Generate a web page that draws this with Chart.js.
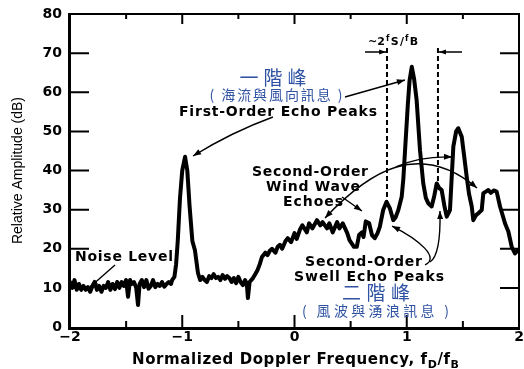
<!DOCTYPE html>
<html>
<head>
<meta charset="utf-8">
<script src="https://cdn.jsdelivr.net/npm/chart.js@4.4.1/dist/chart.umd.min.js"></script>
<style>
  html, body { margin: 0; padding: 0; background: #fff; overflow: hidden; }
  canvas { display: block; }
</style>
</head>
<body>
<canvas id="spectrum" width="524" height="369"></canvas>
<script>
// Doppler spectrum of HF radar sea echo
const freqs = [
  -2.00, -1.98, -1.96, -1.94, -1.92, -1.90, -1.88, -1.86, -1.84, -1.82,
  -1.80, -1.78, -1.76, -1.74, -1.72, -1.70, -1.68, -1.66, -1.64, -1.62,
  -1.60, -1.58, -1.56, -1.54, -1.52, -1.50, -1.483, -1.465, -1.45, -1.43,
  -1.41, -1.394, -1.38, -1.36, -1.34, -1.32, -1.30, -1.28, -1.26, -1.24,
  -1.22, -1.20, -1.18, -1.16, -1.14, -1.12, -1.10, -1.09, -1.07, -1.055,
  -1.04, -1.02, -1.00, -0.975, -0.955, -0.935, -0.91, -0.887, -0.86, -0.84,
  -0.82, -0.80, -0.78, -0.76, -0.74, -0.72, -0.70, -0.68, -0.66, -0.64,
  -0.62, -0.60, -0.58, -0.56, -0.54, -0.52, -0.50, -0.48, -0.46, -0.44,
  -0.425, -0.415, -0.40, -0.37, -0.35, -0.33, -0.31, -0.29, -0.26, -0.24,
  -0.22, -0.20, -0.17, -0.15, -0.13, -0.11, -0.08, -0.06, -0.03, 0.00,
  0.02, 0.05, 0.07, 0.11, 0.13, 0.16, 0.20, 0.23, 0.25, 0.29,
  0.31, 0.34, 0.38, 0.40, 0.43, 0.47, 0.49, 0.53, 0.555, 0.575,
  0.60, 0.615, 0.635, 0.665, 0.69, 0.715, 0.74, 0.76, 0.79, 0.82,
  0.85, 0.88, 0.90, 0.925, 0.955, 0.97, 0.985, 1.01, 1.025, 1.045,
  1.065, 1.088, 1.118, 1.147, 1.17, 1.192, 1.222, 1.245, 1.267, 1.29,
  1.311, 1.335, 1.356, 1.385, 1.40, 1.415, 1.44, 1.459, 1.49, 1.51,
  1.534, 1.555, 1.579, 1.593, 1.615, 1.638, 1.668, 1.682, 1.705, 1.727,
  1.75, 1.775, 1.801, 1.831, 1.855, 1.875, 1.905, 1.935, 1.964, 1.994
];
const amps = [
  11.5, 10, 12, 9.5, 11, 9.5, 10.5, 9.5, 10.2, 9,
  10.5, 11.5, 9.5, 10.5, 9, 10.5, 10, 11.5, 9.5, 11,
  9.7, 11.5, 10, 11.5, 10.5, 12, 7.7, 12, 11, 11.5,
  10, 5.6, 11, 12, 10.2, 12, 9.8, 10.5, 12, 10.2,
  11, 10.5, 11.5, 10.3, 11, 11.5, 11, 12, 12.8, 16,
  22, 33, 40, 43.5, 40, 31, 22, 19.6, 13.8, 12,
  12.8, 12, 11.5, 13, 12.5, 13.5, 12.5, 12.8, 12, 13.3,
  12.3, 13, 12.5, 11.5, 12.5, 11.2, 12.8, 11.5, 10.7, 12,
  11, 7.4, 11.5, 12.5, 13.5, 14.5, 16, 17.9, 19, 18.4,
  19.5, 20, 19, 20.5, 21, 20, 22, 22.7, 21.7, 24,
  22.5, 25, 26, 24.2, 26.5, 25.2, 27.3, 26, 26.8, 25.2,
  26.5, 24.2, 26.8, 25.2, 26.5, 24, 22.2, 20.5, 20.5, 23.5,
  24.2, 23, 27, 26.5, 23.5, 22.7, 24, 25.6, 29.9, 32,
  30.3, 27.3, 28, 29.9, 33.3, 38, 45.2, 57, 63, 66.5,
  63.5, 58, 45.2, 36.7, 33, 31.6, 30.8, 33.5, 36.7, 35.5,
  35, 31, 28.2, 29.9, 38, 46.1, 50, 50.8, 48.6, 44,
  38.4, 34, 30.8, 27.3, 28.5, 29.1, 29.9, 34.2, 34.6, 35.0,
  34.3, 34.9, 34.6, 30.8, 28.5, 26.5, 24.4, 20.5, 18.8, 19.7
];
const xTickValues = [-2, -1, 0, 1, 2];
const yTickValues = [0, 10, 20, 30, 40, 50, 60, 70, 80];
// ±fS/fB band edges about the positive first-order line
const bandEdges = [0.824, 1.278];

const BOLD = "bold 14px 'DejaVu Sans', sans-serif";
const CJK_BIG = "19px 'Noto Sans CJK TC', sans-serif";
const CJK_SMALL = "14px 'Noto Sans CJK TC', sans-serif";
const BLUE = '#2f52a3';

// text stretched to a given width through letter spacing
function fitText(ctx, text, cx, cy, width, font, color) {
  ctx.save();
  ctx.font = font;
  ctx.fillStyle = color;
  ctx.textBaseline = 'middle';
  const hasSpacing = 'letterSpacing' in ctx;
  if (hasSpacing) ctx.letterSpacing = '0px';
  const w0 = ctx.measureText(text).width;
  const n = [...text].length;
  if (hasSpacing && w0 < width && n > 1) {
    const sp = (width - w0) / (n - 1);
    ctx.letterSpacing = sp.toFixed(2) + 'px';
    ctx.textAlign = 'left';
    ctx.fillText(text, cx - width / 2, cy);
  } else {
    ctx.textAlign = 'center';
    ctx.fillText(text, cx, cy);
  }
  ctx.restore();
}

function arrowHead(ctx, tx, ty, fx, fy, len = 8, half = 3) {
  const a = Math.atan2(ty - fy, tx - fx);
  ctx.beginPath();
  ctx.moveTo(tx, ty);
  ctx.lineTo(tx - len * Math.cos(a) + half * Math.sin(a), ty - len * Math.sin(a) - half * Math.cos(a));
  ctx.lineTo(tx - len * Math.cos(a) - half * Math.sin(a), ty - len * Math.sin(a) + half * Math.cos(a));
  ctx.closePath();
  ctx.fill();
}

const frameAndNotes = {
  id: 'frameAndNotes',
  afterDatasetsDraw(chart) {
    const { ctx, chartArea: a, scales: { x, y } } = chart;
    const P = (fx, fy) => [x.getPixelForValue(fx), y.getPixelForValue(fy)];
    ctx.save();
    ctx.strokeStyle = '#000';
    ctx.fillStyle = '#000';

    // frame
    ctx.lineWidth = 3;
    ctx.beginPath();
    ctx.moveTo(a.left - 0.5, a.top - 1);
    ctx.lineTo(a.left - 0.5, a.bottom + 1.5);
    ctx.lineTo(a.right + 1, a.bottom + 1.5);
    ctx.stroke();
    ctx.lineWidth = 2;
    ctx.beginPath();
    ctx.moveTo(a.left - 2, a.top);
    ctx.lineTo(a.right, a.top);
    ctx.lineTo(a.right, a.bottom + 1.5);
    ctx.stroke();

    // inward ticks
    ctx.lineWidth = 2;
    yTickValues.slice(1, -1).forEach(v => {
      const py = y.getPixelForValue(v);
      ctx.beginPath();
      ctx.moveTo(a.left, py); ctx.lineTo(a.left + 19, py);
      ctx.moveTo(a.right - 19, py); ctx.lineTo(a.right, py);
      ctx.stroke();
    });
    const xMarks = [];
    for (let i = 0; i < xTickValues.length - 1; i++) {
      if (i > 0) xMarks.push([xTickValues[i], true]);
      xMarks.push([(xTickValues[i] + xTickValues[i + 1]) / 2, false]);
    }
    xMarks.forEach(([v, major]) => {
      const px = x.getPixelForValue(v);
      ctx.beginPath();
      ctx.moveTo(px, a.bottom); ctx.lineTo(px, a.bottom - (major ? 12 : 6));
      ctx.moveTo(px, a.top); ctx.lineTo(px, a.top + (major ? 10 : 5));
      ctx.stroke();
    });

    // band edge markers
    ctx.lineWidth = 2;
    ctx.setLineDash([5, 3]);
    [[bandEdges[0], 30.4], [bandEdges[1], 36.8]].forEach(([f, lo]) => {
      const [px, p1] = P(f, 71.3);
      const [, p2] = P(f, lo);
      ctx.beginPath(); ctx.moveTo(px, p1); ctx.lineTo(px, p2); ctx.stroke();
    });
    ctx.setLineDash([]);
    const [l0x, ay] = P(0.628, 70.3), [l1x] = P(bandEdges[0] - 0.008, 70.3);
    const [r0x] = P(1.492, 70.3), [r1x] = P(bandEdges[1] + 0.009, 70.3);
    ctx.lineWidth = 1.6;
    ctx.beginPath(); ctx.moveTo(l0x, ay); ctx.lineTo(l1x, ay);
    ctx.moveTo(r0x, ay); ctx.lineTo(r1x, ay); ctx.stroke();
    arrowHead(ctx, l1x, ay, l0x, ay, 7, 2.5);
    arrowHead(ctx, r1x, ay, r0x, ay, 7, 2.5);

    // ~2fS/fB
    {
      let [px, py] = P(0.655, 72.1);
      const parts = [['~2', 11, 0], ['f', 8, -4], ['S', 11, 0], ['/', 11, 0], ['f', 8, -4], ['B', 11, 0]];
      ctx.textBaseline = 'alphabetic';
      ctx.textAlign = 'left';
      parts.forEach(([t, s, dy]) => {
        ctx.font = `bold ${s}px 'DejaVu Sans', sans-serif`;
        ctx.fillText(t, px, py + dy);
        px += ctx.measureText(t).width + 1.2;
      });
    }

    // pointers
    ctx.lineWidth = 1.4;
    const seg = (p0, p1) => {
      ctx.beginPath(); ctx.moveTo(...p0); ctx.lineTo(...p1); ctx.stroke();
      arrowHead(ctx, p1[0], p1[1], p0[0], p0[1]);
    };
    const quad = (p0, c, p1) => {
      ctx.beginPath(); ctx.moveTo(...p0); ctx.quadraticCurveTo(...c, ...p1); ctx.stroke();
      arrowHead(ctx, p1[0], p1[1], c[0], c[1]);
    };
    const cubic = (p0, c1, c2, p1, both) => {
      ctx.beginPath(); ctx.moveTo(...p0); ctx.bezierCurveTo(...c1, ...c2, ...p1); ctx.stroke();
      arrowHead(ctx, p1[0], p1[1], c2[0], c2[1]);
      if (both) arrowHead(ctx, p0[0], p0[1], c1[0], c1[1]);
    };
    // noise level
    seg(P(-1.599, 15.85), P(-1.822, 10.22));
    // first-order peaks
    quad(P(-0.192, 53.67), P(-0.557, 49.84), P(-0.904, 43.71));
    seg(P(0.450, 58.79), P(0.984, 63.13));
    // wind wave echoes
    cubic(P(0.272, 27.86), P(0.673, 40.13), P(1.118, 47.80), P(1.626, 35.53), true);
    quad(P(0.904, 40.9), P(1.118, 43.71), P(1.403, 43.45));
    seg(P(0.423, 33.23), P(0.601, 29.65));
    // swell echo peaks
    cubic(P(1.163, 15.85), P(1.296, 17.64), P(1.118, 22.24), P(0.869, 25.81), false);
    quad(P(1.207, 16.61), P(1.305, 18.40), P(1.296, 29.65));

    // labels
    const L = (t, fx, fy, w, font, color) => { const [cx, cy] = P(fx, fy); fitText(ctx, t, cx, cy, w, font, color); };
    L('一階峰', -0.192, 63.64, 67, CJK_BIG, BLUE);
    L('( 海流與風向訊息 )', -0.165, 59.30, 133, CJK_SMALL, BLUE);
    L('First-Order Echo Peaks', -0.147, 54.95, 198, BOLD, '#000');
    L('Second-Order', 0.138, 39.62, 116, BOLD, '#000');
    L('Wind Wave', 0.165, 35.78, 94, BOLD, '#000');
    L('Echoes', 0.165, 31.95, 60, BOLD, '#000');
    L('Second-Order', 0.615, 16.61, 117, BOLD, '#000');
    L('Swell Echo Peaks', 0.664, 12.78, 150, BOLD, '#000');
    L('二階峰', 0.726, 8.69, 68, CJK_BIG, BLUE);
    L('( 風波與湧浪訊息 )', 0.722, 4.09, 147, CJK_SMALL, BLUE);
    L('Noise Level', -1.519, 17.89, 98, BOLD, '#000');

    // x axis title with subscripts
    {
      const parts = [['Normalized Doppler Frequency, f', 15, 0], ['D', 11, 4], ['/f', 15, 0], ['B', 11, 4]];
      const left = a.left + 62, width = 327, base = a.bottom + 37;
      let w0 = 0, n = 0;
      parts.forEach(([t, s]) => {
        ctx.font = `bold ${s}px 'DejaVu Sans', sans-serif`;
        w0 += ctx.measureText(t).width; n += [...t].length;
      });
      const sp = Math.max(0, (width - w0) / (n - 1));
      let px = left;
      ctx.textAlign = 'left';
      ctx.textBaseline = 'alphabetic';
      parts.forEach(([t, s, dy]) => {
        ctx.font = `bold ${s}px 'DejaVu Sans', sans-serif`;
        if ('letterSpacing' in ctx) ctx.letterSpacing = sp.toFixed(2) + 'px';
        ctx.fillText(t, px, base + dy);
        if ('letterSpacing' in ctx) ctx.letterSpacing = '0px';
        px += ctx.measureText(t).width + sp * [...t].length;
      });
    }
    ctx.restore();
  }
};

new Chart(document.getElementById('spectrum'), {
  type: 'line',
  data: {
    datasets: [{
      data: freqs.map((f, i) => ({ x: f, y: amps[i] })),
      borderColor: '#000',
      borderWidth: 4,
      borderJoinStyle: 'round',
      borderCapStyle: 'round',
      pointRadius: 0,
      tension: 0,
      fill: false
    }]
  },
  options: {
    responsive: false,
    animation: false,
    devicePixelRatio: 1,
    layout: { padding: { left: 0, top: 14, right: 5, bottom: 0 } },
    plugins: { legend: { display: false }, tooltip: { enabled: false } },
    scales: {
      x: {
        type: 'linear',
        min: -2, max: 2,
        afterBuildTicks: s => { s.ticks = xTickValues.map(v => ({ value: v })); },
        afterFit: s => { s.height = 42; s.paddingLeft = 0; s.paddingRight = 0; },
        grid: { display: true, drawOnChartArea: false, drawTicks: false },
        border: { display: false },
        ticks: {
          padding: 2,
          color: '#000',
          maxRotation: 0,
          font: { family: "'DejaVu Sans', sans-serif", size: 14, weight: 'bold' },
          callback: v => (v < 0 ? '\u2212' + Math.abs(v) : String(v))
        }
      },
      y: {
        min: 0, max: 80,
        afterBuildTicks: s => { s.ticks = yTickValues.map(v => ({ value: v })); },
        afterFit: s => { s.width = 70; s.paddingTop = 0; s.paddingBottom = 0; },
        grid: { display: true, drawOnChartArea: false, drawTicks: false },
        border: { display: false },
        title: {
          display: true,
          text: 'Relative Amplitude (dB)',
          color: '#000',
          padding: { top: 10, bottom: 0 },
          font: { family: "'Liberation Sans', Arial, sans-serif", size: 14, weight: 'normal' }
        },
        ticks: {
          padding: 8,
          color: '#000',
          font: { family: "'DejaVu Sans', sans-serif", size: 14, weight: 'bold' }
        }
      }
    }
  },
  plugins: [frameAndNotes]
});
</script>
</body>
</html>
